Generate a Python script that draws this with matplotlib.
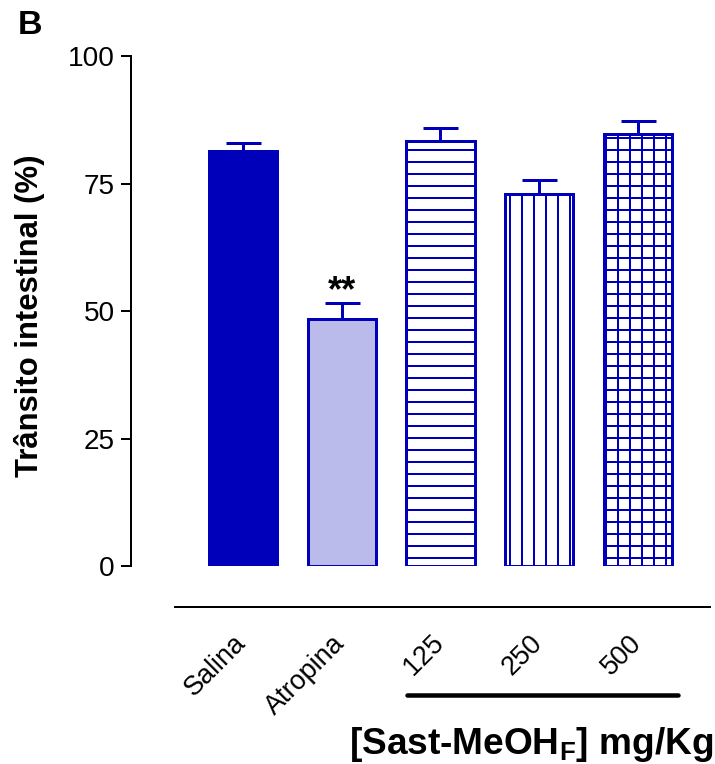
import numpy as np
import matplotlib
matplotlib.use("Agg")
import matplotlib.pyplot as plt

# Data
groups = ["Salina", "Atropina", "125", "250", "500"]
means = [81.4, 48.4, 83.4, 72.9, 84.8]
sems = [1.6, 3.1, 2.4, 2.7, 2.5]
hatches = [None, None, "-", "|", "+"]
yticks = [0, 25, 50, 75, 100]

BLUE = "#0000BB"
LIGHT = "#BBBBEB"
fills = [BLUE, LIGHT, "white", "white", "white"]

plt.rcParams["font.family"] = ["Liberation Sans", "DejaVu Sans"]
plt.rcParams["mathtext.fontset"] = "custom"
plt.rcParams["mathtext.rm"] = "Liberation Sans"
plt.rcParams["mathtext.bf"] = "Liberation Sans:bold"
plt.rcParams["hatch.linewidth"] = 2.0

DPI = 72
W, H = 715, 764
fig = plt.figure(figsize=(W / DPI, H / DPI), dpi=DPI)
ax = fig.add_axes([131 / W, 1 - 566 / H, (713 - 131) / W, (566 - 56) / H])

x = np.arange(len(groups))
for xi, m, s, fc, h in zip(x, means, sems, fills, hatches):
    ax.bar(xi, m, width=0.69, color=fc, edgecolor=BLUE, linewidth=3,
           hatch=h, zorder=2)
    ax.errorbar(xi, m, yerr=[[0], [s]], fmt="none", ecolor=BLUE,
                elinewidth=3, capsize=17.5, capthick=3, zorder=1)

# significance mark
ax.text(x[1], means[1] + sems[1] + 0.5, "**", ha="center", va="baseline",
        fontsize=36, fontweight="bold")

ax.set_ylim(0, 100)
ax.set_xlim(-1.134, 4.76)
ax.set_yticks(yticks)
ax.tick_params(axis="y", length=10, width=2, labelsize=28, pad=6)
ax.set_xticks([])
for side in ["top", "right", "bottom"]:
    ax.spines[side].set_visible(False)
ax.spines["left"].set_linewidth(2)

# rotated group labels
for xi, g in zip(x, groups):
    ax.text(xi - 0.1, -12.6, g, rotation=45, ha="right", va="top",
            rotation_mode="anchor", fontsize=27)

# horizontal rules below the bars
ax.plot([0.076, 0.995], [-0.080, -0.080], transform=ax.transAxes,
        color="black", lw=2, clip_on=False)
ax.plot([0.474, 0.94], [-0.253, -0.253], transform=ax.transAxes,
        color="black", lw=4.5, clip_on=False, solid_capstyle="round")

fig.text(713 / W, 1 - 745 / H, r"[Sast-MeOH$_{\mathbf{F}}$] mg/Kg",
         ha="right", va="center", fontsize=37, fontweight="bold")
fig.text(30 / W, 1 - 316 / H, "Trânsito intestinal (%)", rotation=90,
         ha="center", va="center", fontsize=31, fontweight="bold")
fig.text(18 / W, 1 - 26 / H, "B", ha="left", va="center",
         fontsize=34, fontweight="bold")

fig.savefig("out.png", dpi=DPI)
